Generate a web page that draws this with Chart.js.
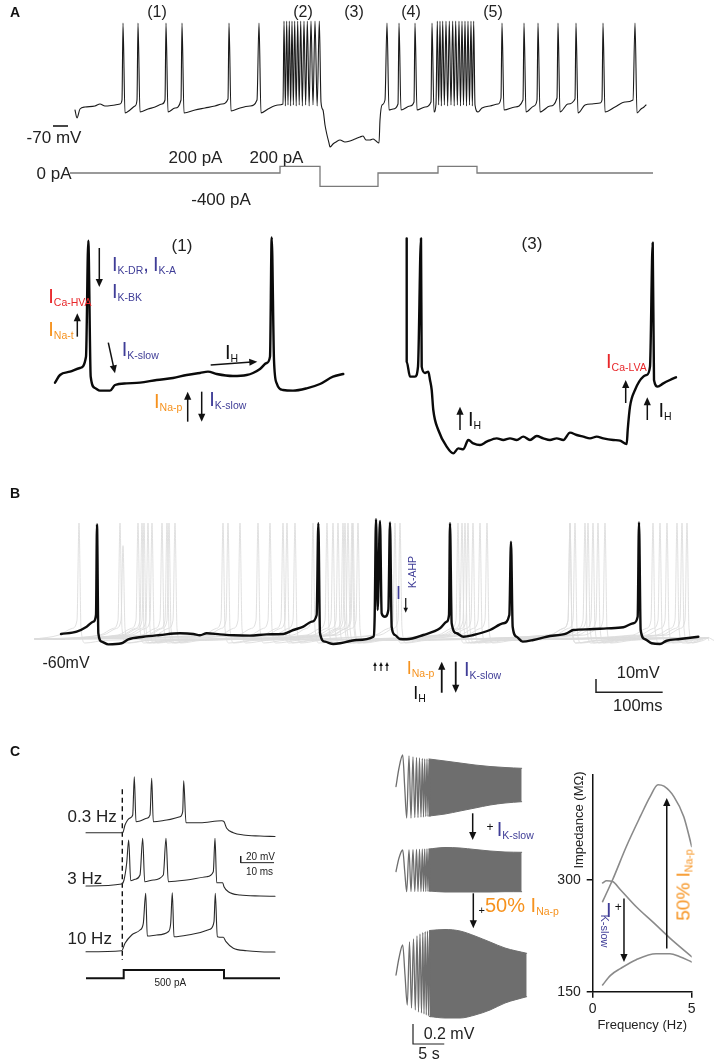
<!DOCTYPE html>
<html><head><meta charset="utf-8">
<script src="https://cdn.jsdelivr.net/npm/chart.js@4.4.1/dist/chart.umd.min.js"></script>
<style>
html,body{margin:0;padding:0;background:#fff;}
#page{position:relative;width:717px;height:1062px;overflow:hidden;font-family:"Liberation Sans",Arial,Helvetica,sans-serif;color:#222;}
canvas{position:absolute;}
.t{position:absolute;white-space:nowrap;line-height:1;transform:translate(-50%,-50%);}
.r90{transform:translate(-50%,-50%) rotate(90deg);}
.rm90{transform:translate(-50%,-50%) rotate(-90deg);}
.il{position:absolute;white-space:nowrap;font-size:20px;line-height:20px;}
.il18{font-size:18px;line-height:18px;}
.sb{font-size:10.5px;position:relative;top:3px;}
.blue{color:#3f3d97}.red{color:#e8272a}.orange{color:#f6921e}.black{color:#111}
.pl{font-weight:bold;font-size:14px;color:#111}
.f17{font-size:17px}.f16{font-size:16px}.f10{font-size:10px}
</style></head>
<body><div id="page">
<canvas id="cA" width="717" height="205" style="left:0;top:0;width:717px;height:205px"></canvas>
<canvas id="cABL" width="360" height="210" style="left:0;top:225px;width:360px;height:210px"></canvas>
<canvas id="cABR" width="357" height="245" style="left:360px;top:225px;width:357px;height:245px"></canvas>
<canvas id="cB" width="717" height="210" style="left:0;top:500px;width:717px;height:210px"></canvas>
<canvas id="cCL" width="230" height="240" style="left:60px;top:760px;width:230px;height:240px"></canvas>
<canvas id="cCH" width="165" height="320" style="left:380px;top:740px;width:165px;height:320px"></canvas>
<canvas id="cIMP" width="187" height="277" style="left:530px;top:760px;width:187px;height:277px"></canvas>

<!-- Panel A top -->
<div class="t pl" style="left:15px;top:12px">A</div>
<div class="t f16" style="left:157px;top:12px">(1)</div>
<div class="t f16" style="left:303px;top:12px">(2)</div>
<div class="t f16" style="left:354px;top:12px">(3)</div>
<div class="t f16" style="left:411px;top:12px">(4)</div>
<div class="t f16" style="left:493px;top:12px">(5)</div>
<div class="t f17" style="left:54px;top:137px">-70 mV</div>
<div class="t f17" style="left:195.5px;top:157px">200 pA</div>
<div class="t f17" style="left:276.5px;top:157px">200 pA</div>
<div class="t f17" style="left:54px;top:173px">0 pA</div>
<div class="t f17" style="left:221px;top:199px">-400 pA</div>

<!-- Panel A bottom left -->
<div class="t f17" style="left:182px;top:245px">(1)</div>
<div class="il blue" style="left:112px;top:254px">I<span class="sb">K-DR</span>,</div>
<div class="il blue" style="left:153px;top:254px">I<span class="sb">K-A</span></div>
<div class="il blue" style="left:112px;top:280.7px">I<span class="sb">K-BK</span></div>
<div class="il red" style="left:48.3px;top:285.7px">I<span class="sb">Ca-HVA</span></div>
<div class="il orange" style="left:48.3px;top:319px">I<span class="sb">Na-t</span></div>
<div class="il blue" style="left:121.7px;top:339px">I<span class="sb">K-slow</span></div>
<div class="il black" style="left:225px;top:342.4px">I<span class="sb">H</span></div>
<div class="il orange" style="left:154px;top:390.7px">I<span class="sb">Na-p</span></div>
<div class="il blue" style="left:209.3px;top:389px">I<span class="sb">K-slow</span></div>

<!-- Panel A bottom right -->
<div class="t f17" style="left:532px;top:243px">(3)</div>
<div class="il red" style="left:606px;top:350.7px">I<span class="sb">Ca-LVA</span></div>
<div class="il black" style="left:468px;top:409px">I<span class="sb">H</span></div>
<div class="il black" style="left:658.5px;top:400.4px">I<span class="sb">H</span></div>

<!-- Panel B -->
<div class="t pl" style="left:15px;top:493px">B</div>
<div class="t f16" style="left:66px;top:663.3px">-60mV</div>
<div class="t" style="left:638.3px;top:671.7px;font-size:16.5px">10mV</div>
<div class="t" style="left:637.8px;top:705px;font-size:16.5px">100ms</div>
<div class="il il18 blue" style="left:396px;top:583.5px">I</div>
<div class="t rm90 blue" style="left:411.5px;top:572px;font-size:10.5px">K-AHP</div>
<div class="il il18 orange" style="left:406.7px;top:659.4px">I<span class="sb">Na-p</span></div>
<div class="il blue" style="left:464px;top:659.1px">I<span class="sb">K-slow</span></div>
<div class="il il18 black" style="left:413.3px;top:684.4px">I<span class="sb">H</span></div>

<!-- Panel C left -->
<div class="t pl" style="left:15px;top:750.7px">C</div>
<div class="t f17" style="left:92.2px;top:816px">0.3 Hz</div>
<div class="t f17" style="left:84.7px;top:878px">3 Hz</div>
<div class="t f17" style="left:89.7px;top:938px">10 Hz</div>
<div class="t f10" style="left:170.3px;top:982.7px">500 pA</div>
<div class="t f10" style="left:260.5px;top:856.7px">20 mV</div>
<div class="t f10" style="left:259.5px;top:871.7px">10 ms</div>

<!-- Panel C chirps -->
<div class="t black" style="left:490px;top:827px;font-size:12px">+</div>
<div class="il blue" style="left:496.7px;top:819px">I<span class="sb">K-slow</span></div>
<div class="t black" style="left:481.7px;top:910px;font-size:11px">+</div>
<div class="il orange" style="left:485px;top:895.4px">50% I<span class="sb">Na-p</span></div>
<div class="t f16" style="left:449px;top:1034px">0.2 mV</div>
<div class="t f16" style="left:429px;top:1054px">5 s</div>

<!-- Panel C impedance -->
<div class="t rm90" style="left:578.3px;top:820px;font-size:13px">Impedance (MΩ)</div>
<div class="t black" style="left:618.3px;top:906.7px;font-size:12px">+</div>
<div class="il blue" style="left:606px;top:900.4px">I</div>
<div class="t r90 blue" style="left:603.8px;top:931px;font-size:11px">K-slow</div>
<div class="t rm90 orange" style="left:683px;top:885px;font-size:19px">50% I<span class="sb">Na-p</span></div>
</div>

<script>
// ---------------- DATA ----------------
// Panel A top: membrane potential (time s, mV) — keypoints between spikes
const aTopBase = [
[0,-54],[0.08,-62],[0.2,-53],[0.4,-51],[0.8,-50],[1.0,-48],[1.2,-50],[1.6,-49],[1.8,-48],[1.88,-44],
[2.0,-57],[2.2,-54],[2.4,-50],[2.48,-44],
[2.6,-56],[2.92,-53],[3.2,-51],[3.48,-48],[3.6,-44],
[3.72,-56],[4.0,-52],[4.24,-44],
[4.36,-57],[4.8,-54],[5.2,-52],[5.6,-50],[5.88,-48],[6.12,-43],
[6.24,-55],[6.6,-52],[7.0,-50],[7.28,-44],
[7.44,-57],[7.72,-53],[8.12,-49],[8.32,-48],
[8.414,-50],[8.52,-49],[8.626,-50],[8.734,-49],[8.848,-50],[8.968,-49],[9.094,-50],[9.226,-49],[9.366,-50],[9.52,-49],[9.686,-50],
[9.84,-46],[9.92,-54],[10.0,-69],[10.08,-79],[10.16,-87],[10.2,-91],[10.32,-88],[10.44,-86],[10.6,-84],[10.8,-86],[11.0,-85],[11.2,-83],[11.4,-81],[11.52,-80],[11.64,-84],[11.8,-84],[11.92,-83],[12.04,-85],[12.16,-87],[12.2,-64],[12.28,-49],[12.4,-44],
[12.56,-54],[12.72,-53],[12.92,-48],
[13.04,-54],[13.4,-50],[13.56,-46],
[13.68,-54],[14.0,-51],[14.24,-46],
[14.36,-56],[14.44,-48],
[14.546,-49],[14.654,-50],[14.774,-49],[14.906,-50],[15.04,-49],[15.168,-50],[15.294,-49],[15.42,-50],[15.54,-49],[15.66,-50],[15.78,-49],[15.894,-50],
[16.0,-49],[16.12,-56],[16.28,-52],[16.6,-50],[16.92,-48],[17.04,-42],
[17.16,-54],[17.6,-51],[17.92,-44],
[18.04,-56],[18.36,-50],[18.48,-44],
[18.6,-56],[19.0,-50],[19.28,-42],
[19.4,-56],[19.72,-48],[20.0,-43],
[20.12,-57],[20.4,-49],[20.68,-48],[21.0,-47],[21.08,-44],
[21.2,-56],[21.6,-51],[22.0,-46],[22.32,-44],
[22.48,-57],[22.64,-53],[22.76,-51],[22.84,-49]
];
const aTopSpikes = [1.92,2.52,3.64,4.28,6.16,7.36,12.48,12.96,13.6,14.28,17.08,17.96,18.52,19.32,20.04,21.12,22.4];
const aTopBurst2 = [8.36,8.468,8.572,8.68,8.788,8.908,9.028,9.16,9.292,9.44,9.6,9.772];
const aTopBurst4 = [14.492,14.6,14.708,14.84,14.972,15.108,15.228,15.36,15.48,15.6,15.72,15.84,15.948];
const aTopSpikePeak = 33, aTopBurstPeak = 35;
const aStepTimes = [-0.2, 8.2, 9.8, 12.12, 14.52, 16.08, 23.12];
const aStepAmps  = [0, 200, -400, 0, 200, 0, 0];
const aScaleBar = [[-0.88,-70],[-0.28,-70]];

// Panel A bottom left (ms, mV)
const aZoom1 = [[0,-61.6],[10,-57],[30,-55],[50,-52.8],[62,-46],[66.6,23.6],[71.4,-58],[80,-64.8],[90,-66.4],[110,-66.4],[120,-63],[143.4,-62],[170,-61.6],[203.4,-60],[236,-58.8],[263.4,-57],[290,-55.8],[306,-55],[323.4,-56.4],[356,-57.6],[383.4,-57],[396,-55.8],[410,-53.4],[423.4,-49.8],[430,-46],[433.4,25.6],[438,-48],[443.4,-62],[456,-66],[476,-66.4],[503.4,-65],[530,-62.4],[556,-58],[576.6,-56.4]];
const aZoom1Arrows = [
  {from:[88.6,19.2], to:[88.6,-4.2]},
  {from:[44.6,-34], to:[44.6,-20]},
  {from:[106.6,-37.6], to:[120,-56]},
  {from:[311.4,-51], to:[404.6,-49]},
  {from:[265.4,-85], to:[265.4,-67]},
  {from:[293.4,-67], to:[293.4,-85]}
];
// Panel A bottom right (ms, mV)
const aZoom3 = [[3.4,25],[3.4,-49],[10,-58],[20,-58],[26,-52],[32,25],[33.4,-52],[40,-55.8],[46.6,-55],[50,-60],[53.4,-66],[56.6,-78],[66.6,-90],[83.4,-100],[96.6,-104],[106.6,-101],[116.6,-101.6],[126.6,-96],[136.6,-98],[150,-99],[163.4,-97],[183.4,-95],[196.6,-96],[210,-95],[223.4,-96],[236.6,-94],[250,-96],[263.4,-93.6],[276.6,-95],[290,-96],[303.4,-95],[316.6,-96],[330,-91.6],[343.4,-93],[356.6,-94],[370,-95],[383.4,-94],[396.6,-95],[416.6,-96],[430,-96.4],[443.4,-98.4],[445.4,-90],[450,-76],[460,-66],[476.6,-58],[483.4,-57],[490,-52],[495.4,22.4],[498,-60],[505.4,-64],[516.6,-62],[530,-60],[542,-58.4]];
const aZoom3Arrows = [
  {from:[441.4,-73.8], to:[441.4,-60]},
  {from:[110,-90], to:[110,-76]},
  {from:[484.6,-84], to:[484.6,-70.4]}
];

// Panel B (ms, mV)
const bBlack = [[1.5,-56.25],[25,-54.5],[40,-50.75],[50,-47],[54,-42],[55.5,26],[57.5,-55.7],[62.5,-62],[72.5,-64],[92.5,-63.2],[102.5,-60.2],[125,-58.3],[150,-57],[180,-55.7],[200,-56.25],[210,-57.2],[220,-55.7],[240,-56.5],[260,-57.2],[285,-57.5],[310,-56.5],[335,-56.25],[350,-53.25],[365,-50.75],[377.5,-47],[385,-42],[387.5,26.8],[390,-55.7],[397.5,-62],[410,-63.75],[420,-63.2],[435,-61.5],[445,-60.75],[470,-58.3],[472,-43.3],[474,29.8],[476.5,-38.25],[480,28.5],[482.5,-40.7],[487.5,-43.3],[492.5,-38.25],[495,27.5],[497.5,-50.8],[502.5,-57],[510,-60],[520,-60.2],[545,-57],[570,-52],[580,-47],[583.5,-42],[585,26.8],[587.5,-48.2],[595,-55.7],[605,-58.3],[620,-57],[645,-53.25],[665,-48.2],[674,-42],[676.5,13],[679,-50.8],[685,-58.3],[694,-62],[710,-60.75],[730,-58.3],[760,-55.7],[770,-53.25],[795,-52.7],[820,-52],[845,-51.2],[860,-48.2],[866.5,-43.3],[868.5,27.5],[871,-53.25],[877.5,-60.2],[887.5,-63.2],[900,-63.75],[910,-61.3],[930,-60],[957.5,-58.3]];
const bGraySpikeTimes = [
 [28.5,297,597,889.5],[90,334.5,603,900],[117,340.5,607.5,910.5],[123,352.5,612,925.5],
 [126,379.5,619.5,933],[132,400.5,630,940.5],[138,409.5,640.5],[153,417,765],
 [160.5,427.5,772.5],[163.5,438,787.5],[172.5,447,792],[244.5,502.5,799.5],
 [252,510,807],[270,424.5,817.5],[315,432,765],[439.5,94.5]
];
const bGrayShapeDt = [-30,-10,-3,0,3,9,40];
const bGrayShapeV  = [-57,-52,-46,27,-52,-63,-61];
const bRestLine = [[-27.5,-60],[7.5,-60]];
const bScaleBar = [[804,-90],[804,-100],[904,-100]];
const bArrows = [
  {from:[518.6,-29.25], to:[518.6,-40.3], head:5, width:1.2},
  {from:[472.5,-84], to:[472.5,-77.25], head:4, width:1.1},
  {from:[481.5,-84], to:[481.5,-77.25], head:4, width:1.1},
  {from:[490.5,-84], to:[490.5,-77.25], head:4, width:1.1},
  {from:[572.6,-100.3], to:[572.6,-77], head:8, width:1.8},
  {from:[593.6,-77], to:[593.6,-100.3], head:8, width:1.8}
];

// Panel C left (ms, mV per trace; pA)
const c03Hz = [[0,-70],[11.01,-70],[11.7,-46.9],[13.2,-25.9],[14.01,-16.9],[14.49,98],[15,-37],[16.2,-34.9],[18.21,-26.8],[19.2,-16.9],[19.71,93.2],[20.19,-37],[24.21,-31.9],[28.2,-22],[29.01,-7],[29.31,86],[30,-40],[34.2,-40],[40.71,-34],[41.4,-37],[42.21,-56.8],[44.19,-70],[47.19,-76.9],[52.2,-79.9],[56.7,-81.4]];
const c3Hz = [[0,-70],[10.71,-64],[11.4,-52],[12.21,-1],[12.81,68],[13.41,-54.1],[14.7,-49.9],[16.2,-37],[17.01,73.1],[17.61,-57.1],[20.19,-52],[23.19,-37],[24,73.1],[24.69,-57.1],[30.21,-52],[36.21,-42.1],[38.19,-27.1],[38.7,73.1],[39.21,-60.1],[41.01,-60.1],[41.4,-72.1],[42.69,-87.1],[46.2,-97],[52.2,-100],[56.7,-100.9]];
const c10Hz = [[0,-70],[10.71,-67],[11.7,-44.8],[13.71,-19.9],[16.2,-4.9],[17.19,15.2],[17.91,105.2],[18.39,-22.9],[21.21,-19.9],[24.69,-10],[25.41,15.2],[25.89,107],[26.4,-25],[32.19,-16.9],[37.2,-2.8],[38.4,20],[38.79,105.2],[39.39,-25],[41.19,-26.8],[42,-40],[44.19,-59.8],[48.21,-67],[52.2,-70],[56.7,-70.9]];
const cStepTimes = [0, 11.31, 41.4, 58.2];
const cStepAmps  = [0, 500, 0, 0];
const cOnsetLine = [[10.89,60.2],[10.89,-451.9]];
const cScaleBar = [[46.41,20],[46.41,0],[56.41,0]];

// Panel C chirps (s, mV relative to rest)
const ch1Zig = [[0,0],[0.48,0.185],[1.072,0.315],[1.392,-0.005],[1.712,-0.315],[2.08,0.305],[2.4,-0.315],[2.72,0.295],[3.008,-0.31],[3.28,0.29],[3.52,-0.31],[3.76,0.285],[4.0,-0.305],[4.208,0.28],[4.4,-0.305],[4.592,0.275],[4.768,-0.3],[4.96,0.275],[5.12,-0.3],[5.28,0.27],[5.44,-0.295]];
const ch1EnvT = [5.28,7.84,10.24,12.64,15.04,17.44,20.11];
const ch1Up = [0.275,0.255,0.235,0.215,0.2,0.19,0.182];
const ch1Lo = [-0.295,-0.275,-0.245,-0.215,-0.185,-0.165,-0.152];
const ch2Zig = [[0,0],[0.48,0.135],[1.072,0.215],[1.392,0.005],[1.712,-0.202],[2.08,0.215],[2.4,-0.2],[2.72,0.218],[3.008,-0.2],[3.28,0.22],[3.52,-0.2],[3.76,0.222],[4.0,-0.2],[4.208,0.223],[4.4,-0.2],[4.592,0.224],[4.768,-0.2],[4.96,0.225],[5.12,-0.198],[5.28,0.225],[5.44,-0.195]];
const ch2EnvT = [5.28,7.84,10.24,12.64,15.04,17.44,20.11];
const ch2Up = [0.225,0.24,0.235,0.22,0.205,0.195,0.192];
const ch2Lo = [-0.195,-0.205,-0.205,-0.205,-0.205,-0.202,-0.202];
const ch3Zig = [[0,0],[0.48,0.17],[1.072,0.3],[1.44,0],[1.808,-0.3],[2.16,0.33],[2.48,-0.33],[2.8,0.36],[3.088,-0.35],[3.36,0.39],[3.6,-0.37],[3.84,0.41],[4.08,-0.38],[4.288,0.425],[4.48,-0.39],[4.672,0.435],[4.848,-0.4],[5.04,0.44],[5.2,-0.41],[5.36,0.445],[5.52,-0.415]];
const ch3EnvT = [5.36,7.84,10.24,12.64,15.04,17.44,20.91];
const ch3Up = [0.445,0.455,0.44,0.39,0.33,0.27,0.217];
const ch3Lo = [-0.415,-0.43,-0.43,-0.4,-0.35,-0.28,-0.217];
const chScaleBar = [[2.72,-0.49],[2.72,-0.69],[7.72,-0.69]];
const chArrows = [
  {from:[12.27,-0.268], to:[12.27,-0.535], y:'y1'},
  {from:[12.37,-0.218], to:[12.37,-0.568], y:'y2'}
];

// Panel C impedance (Hz, MΩ)
const impFreqNaP = [0.5,1.0,1.7,2.4,2.9,3.3,3.6,4.1,4.6,5.0];
const impZNaP    = [271,300,345,385,412,428,426,412,385,345];
const impFreqCtl = [0.5,0.7,1.0,1.4,2.2,3.1,3.9,5.0];
const impZCtl    = [296,299,298,287,264,242,222,197];
const impFreqKs  = [0.5,0.9,1.4,2.2,3.2,3.9,4.4,5.0];
const impZKs     = [159,172,181,193,201,201,197,190];
const impXTicks = [0,5];
const impYTicks = [150,300];
const impArrows = [
  {from:[1.58,275], to:[1.58,190]},
  {from:[3.74,208], to:[3.74,410]}
];

// ---------------- RENDER ----------------
const FONT = '"Liberation Sans", Arial, Helvetica, sans-serif';
Chart.defaults.font.family = FONT;

const P = arr => arr.map(p => ({x:p[0], y:p[1]}));
const Z = (xs, ys) => xs.map((x,i) => ({x, y:ys[i]}));
function withSpikes(base, groups) {
  let p = base.slice();
  groups.forEach(g => g.times.forEach(t => p.push([t, g.peak])));
  p.sort((a,b) => a[0]-b[0]);
  return p;
}
function grayTrace(times) {
  const p = [[-37.5,-60],[972,-59]];
  times.forEach(ts => bGrayShapeDt.forEach((d,i) => p.push([ts+d, (i===3 && ts===94.5) ? 10 : bGrayShapeV[i]])));
  p.sort((a,b) => a[0]-b[0]);
  return p;
}
function line(data, color, width, extra) {
  return Object.assign({data, borderColor:color, borderWidth:width, pointRadius:0, fill:false,
    tension:0, borderJoinStyle:'round', borderCapStyle:'round'}, extra||{});
}
const smooth = {cubicInterpolationMode:'monotone'};

function arrowsPlugin(items) {
  return { id:'arrows', afterDatasetsDraw(chart) {
    const ctx = chart.ctx;
    items.forEach(a => {
      const xs = chart.scales[a.x||'x'], ys = chart.scales[a.y||'y'];
      const x1 = xs.getPixelForValue(a.from[0]), y1 = ys.getPixelForValue(a.from[1]);
      const x2 = xs.getPixelForValue(a.to[0]),   y2 = ys.getPixelForValue(a.to[1]);
      const ang = Math.atan2(y2-y1, x2-x1);
      const h = a.head||8, w = h*0.45;
      const c = Math.cos(ang), s = Math.sin(ang);
      ctx.save();
      ctx.strokeStyle = ctx.fillStyle = a.color||'#111';
      ctx.lineWidth = a.width||1.5;
      ctx.beginPath(); ctx.moveTo(x1,y1); ctx.lineTo(x2-c*h*0.7, y2-s*h*0.7); ctx.stroke();
      ctx.beginPath(); ctx.moveTo(x2,y2);
      ctx.lineTo(x2-c*h+s*w, y2-s*h-c*w);
      ctx.lineTo(x2-c*h-s*w, y2-s*h+c*w);
      ctx.closePath(); ctx.fill();
      ctx.restore();
    });
  }};
}
function hidden(xr, yr) {
  const sc = {x:{type:'linear', display:false, min:xr[0], max:xr[1]}};
  for (const k in yr) sc[k] = {type:'linear', display:false, min:yr[k][0], max:yr[k][1]};
  return sc;
}
function make(id, datasets, scales, arrows, extraOpts) {
  return new Chart(document.getElementById(id), {
    type:'line',
    data:{datasets},
    options:Object.assign({
      responsive:false, animation:false, devicePixelRatio:1, events:[],
      layout:{padding:0}, scales,
      plugins:{legend:{display:false}, tooltip:{enabled:false}},
      elements:{point:{radius:0}}
    }, extraOpts||{}),
    plugins:[arrowsPlugin(arrows||[])]
  });
}

// Panel A top
make('cA', [
  line(P(withSpikes(aTopBase, [{times:aTopSpikes, peak:aTopSpikePeak},{times:aTopBurst2, peak:aTopBurstPeak},{times:aTopBurst4, peak:aTopBurstPeak}])), '#1a1a1a', 1.1, Object.assign({yAxisID:'y'}, smooth)),
  line(Z(aStepTimes, aStepAmps), '#7a7a7a', 1.3, {yAxisID:'yI', stepped:true, borderJoinStyle:'miter', borderCapStyle:'butt'}),
  line(P(aScaleBar), '#1a1a1a', 1.6, {yAxisID:'y', borderCapStyle:'butt'})
], hidden([-3, 25.68], {y:[-149, 56], yI:[-960, 5190]}));

// Panel A bottom left / right
make('cABL', [ line(P(aZoom1), '#0a0a0a', 2.4, smooth) ], hidden([-110, 610], {y:[-93, 33]}), aZoom1Arrows);
make('cABR', [ line(P(aZoom3), '#0a0a0a', 2.4, smooth) ], hidden([-90, 624], {y:[-114, 33]}), aZoom3Arrows);

// Panel B
const bSets = [ line(P(bBlack), '#0d0d0d', 2.4, smooth) ];
bGraySpikeTimes.forEach(ts => bSets.push(line(P(grayTrace(ts)), '#dcdcdc', 0.9, smooth)));
bSets.push(line(P(bRestLine), '#8a8a8a', 1.5, {borderCapStyle:'butt'}));
bSets.push(line(P(bScaleBar), '#222', 1.5, {borderCapStyle:'butt', borderJoinStyle:'miter'}));
make('cB', bSets, hidden([-90, 985.5], {y:[-113.25, 44.25]}), bArrows);

// Panel C left
make('cCL', [
  line(P(c03Hz), '#2a2a2a', 1.1, Object.assign({yAxisID:'yA'}, smooth)),
  line(P(c3Hz),  '#2a2a2a', 1.1, Object.assign({yAxisID:'yB'}, smooth)),
  line(P(c10Hz), '#2a2a2a', 1.1, Object.assign({yAxisID:'yC'}, smooth)),
  line(Z(cStepTimes, cStepAmps), '#111', 2, {yAxisID:'yI', stepped:true, borderJoinStyle:'miter', borderCapStyle:'butt'}),
  line(P(cOnsetLine), '#111', 1.4, {yAxisID:'yA', borderDash:[5,3.5], borderCapStyle:'butt'}),
  line(P(cScaleBar), '#222', 1, {yAxisID:'yB', borderCapStyle:'butt', borderJoinStyle:'miter'})
], hidden([-7.8, 61.2], {yA:[-571.9,148.1], yB:[-412,308], yC:[-214.9,505.1], yI:[-1302,13098]}));

// Panel C chirps
const G = '#6e6e6e';
function chirpSets(zig, envT, up, lo, yid) {
  return [
    line(P(zig), G, 1.3, Object.assign({yAxisID:yid}, smooth)),
    line(Z(envT, up), G, 1, Object.assign({yAxisID:yid}, smooth)),
    line(Z(envT, lo), G, 1, Object.assign({yAxisID:yid, fill:'-1', backgroundColor:G}, smooth))
  ];
}
make('cCH', [].concat(
  chirpSets(ch1Zig, ch1EnvT, ch1Up, ch1Lo, 'y1'),
  chirpSets(ch2Zig, ch2EnvT, ch2Up, ch2Lo, 'y2'),
  chirpSets(ch3Zig, ch3EnvT, ch3Up, ch3Lo, 'y3'),
  [line(P(chScaleBar), '#222', 1.2, {yAxisID:'y3', borderCapStyle:'butt', borderJoinStyle:'miter'})]
), hidden([-2.56, 23.84], {y1:[-2.735,0.465], y2:[-1.885,1.315], y3:[-0.85,2.35]}), chArrows);

// Panel C impedance
const IG = '#8a8a8a';
make('cIMP', [
  line(Z(impFreqNaP, impZNaP), IG, 1.6, smooth),
  line(Z(impFreqCtl, impZCtl), IG, 1.6, smooth),
  line(Z(impFreqKs, impZKs), IG, 1.6, smooth)
], {
  x:{type:'linear', min:0, max:5,
     afterBuildTicks:s => { s.ticks = impXTicks.map(v => ({value:v})); },
     afterFit:s => { s.height = 45.3; },
     ticks:{font:{size:14}, color:'#222', padding:3, maxRotation:0},
     grid:{display:true, drawOnChartArea:false, drawTicks:true, tickLength:6, color:'#111', lineWidth:1.5},
     border:{display:true, color:'#111', width:1.5},
     title:{display:true, text:'Frequency (Hz)', font:{size:13}, color:'#222', padding:{top:2, bottom:4}}},
  y:{type:'linear', min:150, max:441,
     afterBuildTicks:s => { s.ticks = impYTicks.map(v => ({value:v})); },
     afterFit:s => { s.width = 62.7; },
     ticks:{font:{size:14}, color:'#222', padding:6},
     grid:{display:true, drawOnChartArea:false, drawTicks:true, tickLength:6, color:'#111', lineWidth:1.5},
     border:{display:true, color:'#111', width:1.5}}
}, impArrows, {layout:{padding:{left:0, top:15, right:25.3, bottom:0}}});
</script>
</body></html>
